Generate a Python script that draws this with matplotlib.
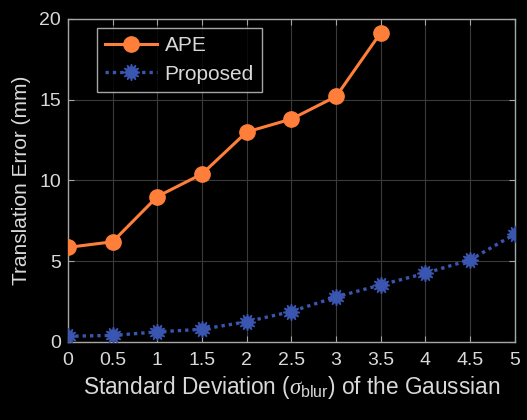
import matplotlib
matplotlib.use("Agg")
import matplotlib.pyplot as plt

sigma = [0, 0.5, 1, 1.5, 2, 2.5, 3, 3.5, 4, 4.5, 5]
ape = [5.85, 6.2, 9.0, 10.4, 13.0, 13.8, 15.2, 19.15]
proposed = [0.35, 0.4, 0.62, 0.78, 1.25, 1.88, 2.78, 3.53, 4.25, 5.08, 6.68]
xticks = [0, 0.5, 1, 1.5, 2, 2.5, 3, 3.5, 4, 4.5, 5]
xticklabels = ["0", "0.5", "1", "1.5", "2", "2.5", "3", "3.5", "4", "4.5", "5"]
yticks = [0, 5, 10, 15, 20]

plt.rcParams["font.family"] = ["Liberation Sans", "DejaVu Sans"]
plt.rcParams["mathtext.fontset"] = "custom"
plt.rcParams["mathtext.rm"] = "Liberation Sans"
plt.rcParams["mathtext.it"] = "Liberation Serif:italic"

txt = "#d9d9d9"
axc = "#a6a6a6"
orange = "#ff7f3a"
blue = "#3a56b0"

fig = plt.figure(figsize=(5.27, 4.2), dpi=100, facecolor="black")
ax = fig.add_axes([0.129, 0.186, 0.848, 0.769], facecolor="black")

ax.plot(sigma[:len(ape)], ape, color=orange, lw=2.2, marker="o", ms=11,
        label="APE", zorder=3)
ax.plot(sigma, proposed, color=blue, lw=2.4, ls=(0, (1, 1.2)),
        marker=(12, 1, 0), ms=12, mfc=blue, mec=blue, label="Proposed", zorder=3)

ax.set_xlim(0, 5)
ax.set_ylim(0, 20)
ax.set_xticks(xticks)
ax.set_xticklabels(xticklabels)
ax.set_yticks(yticks)
ax.grid(True, color="#3a3a3a", lw=0.8)
ax.set_axisbelow(True)
for s in ax.spines.values():
    s.set_color(axc)
    s.set_linewidth(1.0)
ax.tick_params(direction="in", colors=axc, labelcolor=txt, labelsize=14,
               length=4, top=True, right=True)
ax.tick_params(axis="x", pad=7)
ax.tick_params(axis="y", pad=5)

ax.set_xlabel(r"Standard Deviation ($\sigma_{\mathrm{blur}}$) of the Gaussian",
              color=txt, fontsize=16.3, labelpad=4)
ax.set_ylabel("Translation Error (mm)", color=txt, fontsize=15, labelpad=6)

leg = ax.legend(loc="upper left", bbox_to_anchor=(0.065, 0.972), borderaxespad=0,
                fontsize=15, frameon=True, fancybox=False, facecolor="black",
                edgecolor="#d0d0d0", labelcolor=txt, handlelength=2.5,
                borderpad=0.4, labelspacing=0.45, handletextpad=0.35)
leg.get_frame().set_linewidth(1.0)

fig.savefig("out.png", dpi=100, facecolor="black")
